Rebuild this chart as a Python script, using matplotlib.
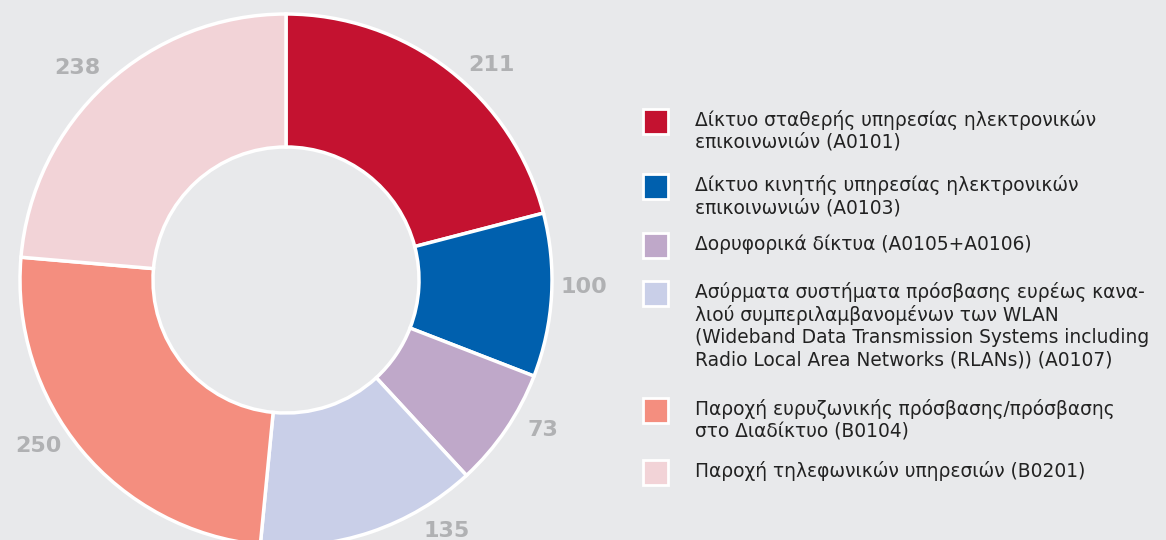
import numpy as np
from matplotlib import pyplot as plt
from matplotlib.patches import Rectangle

BG_COLOR = "#e8e9eb"

categories = [
    "Δίκτυο σταθερής υπηρεσίας ηλεκτρονικών\nεπικοινωνιών (A0101)",
    "Δίκτυο κινητής υπηρεσίας ηλεκτρονικών\nεπικοινωνιών (A0103)",
    "Δορυφορικά δίκτυα (A0105+A0106)",
    "Ασύρματα συστήματα πρόσβασης ευρέως κανα-\nλιού συμπεριλαμβανομένων των WLAN\n"
    "(Wideband Data Transmission Systems including\nRadio Local Area Networks (RLANs)) (A0107)",
    "Παροχή ευρυζωνικής πρόσβασης/πρόσβασης\nστο Διαδίκτυο (B0104)",
    "Παροχή τηλεφωνικών υπηρεσιών (B0201)",
]
values = [211, 100, 73, 135, 250, 238]
colors = ["#c41230", "#0060ae", "#bfa8c9", "#c9cfe8", "#f48e7f", "#f2d3d7"]
# small angular nudges (degrees) for the value labels, as in the source layout
label_nudge = [-6, 2, 4, 14, -6, 2]

plt.rcParams["font.family"] = ["DejaVu Sans"]

fig = plt.figure(figsize=(11.66, 5.40), dpi=100, facecolor=BG_COLOR)

# axes placed so the donut sits at the left, bottom slightly cut off
ax = fig.add_axes([20 / 1166, -6 / 540, 532 / 1166, 532 / 540])
ax.set_facecolor(BG_COLOR)
wedges, _ = ax.pie(
    values,
    colors=colors,
    startangle=90,
    counterclock=False,
    radius=1.0,
    wedgeprops=dict(width=0.5, edgecolor="white", linewidth=2.5),
)
ax.set_xlim(-1.0, 1.0)
ax.set_ylim(-1.0, 1.0)
ax.set_aspect("equal")
ax.axis("off")

for w, v, nudge in zip(wedges, values, label_nudge):
    ang = np.deg2rad((w.theta1 + w.theta2) / 2 + nudge)
    r = 1.12
    ax.text(r * np.cos(ang), r * np.sin(ang), str(v), ha="center", va="center",
            fontsize=16, fontweight="bold", color="#b0b1b3", clip_on=False)

# legend drawn by hand to mimic the source layout
legend_tops = [121, 186, 245, 293, 410, 472]
for label, color, y in zip(categories, colors, legend_tops):
    fy = 1 - y / 540
    fig.patches.append(Rectangle((643 / 1166, fy - 12.5 / 540), 25 / 1166, 25 / 540,
                                 transform=fig.transFigure, facecolor=color,
                                 edgecolor="white", linewidth=2))
    fig.text(695 / 1166, fy + 11 / 540, label, ha="left", va="top",
             fontsize=13.4, color="#222222", linespacing=1.2)

fig.savefig("out.png", dpi=100, facecolor=BG_COLOR)
